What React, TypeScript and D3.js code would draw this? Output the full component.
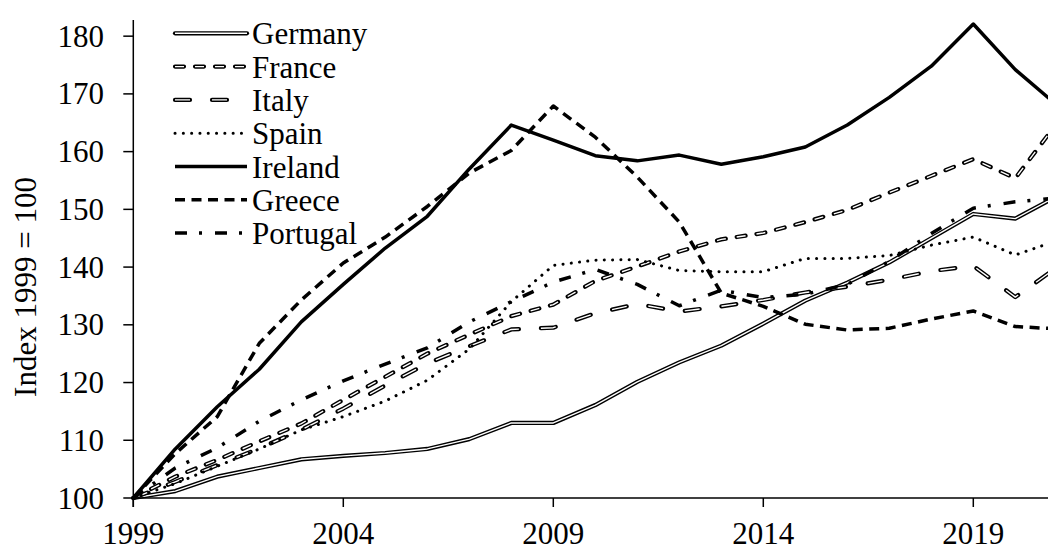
import React from "react";
import * as d3 from "d3";

const years = [1999, 2000, 2001, 2002, 2003, 2004, 2005, 2006, 2007, 2008, 2009, 2010, 2011, 2012, 2013, 2014, 2015, 2016, 2017, 2018, 2019, 2020, 2021];

const germany = [100, 101.2, 103.7, 105.2, 106.7, 107.3, 107.8, 108.5, 110.2, 113, 113, 116.1, 120.1, 123.5, 126.4, 130.2, 134.2, 137.3, 140.8, 145, 149.2, 148.4, 152.3];
const france = [100, 103.7, 106.6, 109.8, 112.9, 117, 121, 125, 128.3, 131.5, 133.5, 137.6, 140.1, 142.7, 144.8, 145.9, 147.8, 149.9, 152.9, 155.8, 158.7, 155.4, 165];
const italy = [100, 102.8, 105.7, 108.6, 111.8, 115.5, 119.5, 123.3, 126.3, 129.2, 129.5, 132, 133.6, 132.3, 133.2, 134.3, 135.6, 136.6, 137.8, 139.3, 140.2, 134.8, 140];
const spain = [100, 102.5, 105.5, 108.5, 111.8, 114.1, 116.8, 120.4, 125.8, 134, 140.3, 141.2, 141.3, 139.4, 139.2, 139.2, 141.5, 141.5, 142, 143.8, 145.2, 142.1, 144.6];
const ireland = [100, 108.5, 115.8, 122.3, 130.5, 137, 143.3, 148.8, 157, 164.6, 162, 159.3, 158.4, 159.4, 157.8, 159.1, 160.8, 164.6, 169.4, 174.8, 182.1, 174.2, 168];
const greece = [100, 107.7, 114.1, 126.8, 134.3, 140.7, 145.2, 150.5, 156.3, 160.2, 167.9, 162.5, 155.6, 147.8, 135.5, 133.2, 130.1, 129.1, 129.4, 131, 132.4, 129.7, 129.3];
const portugal = [100, 105.2, 108.7, 113.3, 117, 120.3, 123.2, 126, 130.5, 134, 137.4, 139.6, 137, 133.3, 136, 134.7, 135.3, 137, 141, 145.8, 150.2, 151.3, 152];

const xTicks = [1999, 2004, 2009, 2014, 2019];
const yTicks = [100, 110, 120, 130, 140, 150, 160, 170, 180];
const yLabel = "Index 1999 = 100";

type Style = { kind: "double" | "single"; width: number; dash?: string; cap?: string };

const seriesList: { name: string; values: number[]; style: Style }[] = [
  { name: "Germany", values: germany, style: { kind: "double", width: 4.2 } },
  { name: "France", values: france, style: { kind: "double", width: 4.2, dash: "9,11" } },
  { name: "Italy", values: italy, style: { kind: "double", width: 4.2, dash: "15,22" } },
  { name: "Spain", values: spain, style: { kind: "single", width: 3, dash: "0.1,8.2", cap: "round" } },
  { name: "Ireland", values: ireland, style: { kind: "single", width: 3.5 } },
  { name: "Greece", values: greece, style: { kind: "single", width: 3.5, dash: "10,6.5" } },
  { name: "Portugal", values: portugal, style: { kind: "single", width: 3.5, dash: "12,12,3,13" } },
];

const W = 1048;
const H = 547;
const FONT = '"Liberation Serif", "Times New Roman", Times, "DejaVu Serif", serif';
const FS = 31;
const textStyle: React.CSSProperties = { fontFamily: FONT, fontSize: FS };

export default function App() {
  const x = d3.scaleLinear().domain([1999, 2021]).range([133.3, 133.3 + 22 * 42]);
  const y = d3.scaleLinear().domain([100, 182.8]).range([498, 20]);

  const renderPath = (d: string, style: Style, key: string) => {
    if (style.kind === "double") {
      return (
        <g key={key}>
          <path d={d} fill="none" stroke="#000" strokeWidth={style.width} strokeDasharray={style.dash} strokeLinecap="round" strokeLinejoin="round" />
          <path d={d} fill="none" stroke="#fff" strokeWidth={1.4} strokeDasharray={style.dash} strokeLinecap="butt" strokeLinejoin="round" />
        </g>
      );
    }
    return (
      <path key={key} d={d} fill="none" stroke="#000" strokeWidth={style.width} strokeDasharray={style.dash} strokeLinecap={(style.cap as any) || "butt"} strokeLinejoin="round" />
    );
  };

  const line = d3
    .line<number>()
    .x((_, i) => x(years[i]))
    .y((v) => y(v));

  return (
    <svg width={W} height={H} style={{ position: "absolute", left: 0, top: 0, background: "#fff", fontFamily: FONT }}>
      <rect x={0} y={0} width={W} height={H} fill="#fff" />
      {seriesList.map((s) => renderPath(line(s.values) as string, s.style, s.name))}

      <line x1={x(1999)} x2={W} y1={y(100)} y2={y(100)} stroke="#000" strokeWidth={1.5} />
      <line x1={x(1999)} x2={x(1999)} y1={y(100) + 9} y2={y(182.8)} stroke="#000" strokeWidth={1.5} />
      {yTicks.map((t) => (
        <g key={"y" + t}>
          <line x1={x(1999) - 10} x2={x(1999)} y1={y(t)} y2={y(t)} stroke="#000" strokeWidth={1.5} />
          <text x={104} y={y(t)} dy="0.34em" textAnchor="end" style={textStyle}>
            {t}
          </text>
        </g>
      ))}
      {xTicks.map((t) => (
        <g key={"x" + t}>
          <line x1={x(t)} x2={x(t)} y1={y(100)} y2={y(100) + 9} stroke="#000" strokeWidth={1.5} />
          <text x={x(t)} y={544} textAnchor="middle" style={textStyle}>
            {t}
          </text>
        </g>
      ))}
      <text transform={`translate(36, 287) rotate(-90)`} textAnchor="middle" style={textStyle}>
        {yLabel}
      </text>

      {seriesList.map((s, i) => {
        const ly = 33.3 + i * 33.3;
        return (
          <g key={"lg" + s.name}>
            {renderPath(`M175,${ly}L247,${ly}`, s.style, "lp" + s.name)}
            <text x={252} y={ly + 11} style={textStyle}>
              {s.name}
            </text>
          </g>
        );
      })}
    </svg>
  );
}
